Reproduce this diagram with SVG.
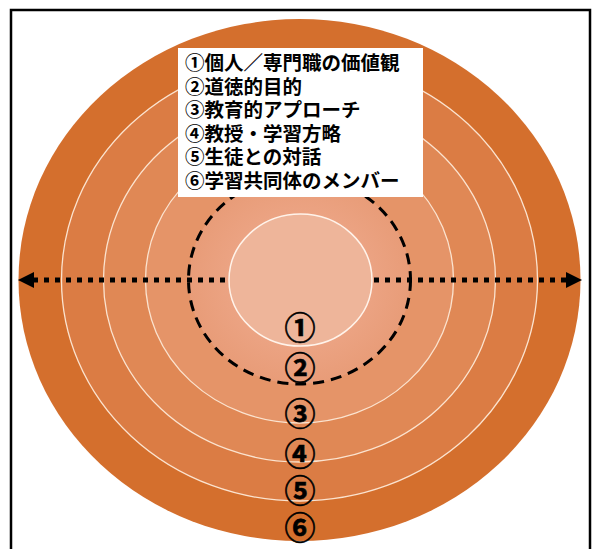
<svg xmlns="http://www.w3.org/2000/svg" width="594" height="549" viewBox="0 0 594 549">
  <defs>
    <style>
      .ring { stroke: #FBE3CF; stroke-width: 1.3; }
      .lbl { font-family: "Noto Sans CJK JP", "Noto Sans", sans-serif; font-weight: bold; font-size: 31px; fill: #000; stroke: #000; stroke-width: 0.6; text-anchor: middle; }
      .legend { font-family: "Noto Sans CJK JP", "Noto Sans", sans-serif; font-weight: bold; font-size: 19.5px; fill: #000; }
    </style>
    <marker id="ah" viewBox="0 0 10 10" refX="10" refY="5" markerWidth="16" markerHeight="16" markerUnits="userSpaceOnUse" orient="auto-start-reverse">
      <path d="M0,0 L10,5 L0,10 z" fill="#000"/>
    </marker>
    <radialGradient id="g2" cx="0.5" cy="0.5" r="0.5">
      <stop offset="0.6" stop-color="#ECA484"/>
      <stop offset="1" stop-color="#E89C78"/>
    </radialGradient>
  </defs>
  <rect x="11" y="10" width="579" height="570" fill="#fff" stroke="#000" stroke-width="2.5"/>

  <g id="rings">
    <ellipse id="ring6" cx="299.5" cy="280" rx="281" ry="261" fill="#D46F2D"/>
    <ellipse id="ring5" class="ring" cx="299.5" cy="280" rx="238" ry="221" fill="#DB7C44"/>
    <ellipse id="ring4" class="ring" cx="299.5" cy="280" rx="196" ry="182" fill="#E08855"/>
    <ellipse id="ring3" class="ring" cx="299.5" cy="280" rx="154" ry="143" fill="#E59468"/>
    <ellipse id="ring2" cx="299.5" cy="280" rx="111" ry="104" fill="url(#g2)"/>
  </g>

  <g id="connectors">
    <line x1="33" y1="280" x2="567" y2="280" stroke="#000" stroke-width="5" stroke-dasharray="5 6"/>
    <line x1="33" y1="280" x2="18" y2="280" stroke="#000" stroke-width="0.1" marker-end="url(#ah)"/>
    <line x1="567" y1="280" x2="582" y2="280" stroke="#000" stroke-width="0.1" marker-end="url(#ah)"/>
  </g>

  <g id="core">
    <ellipse id="ring1" cx="300.5" cy="280" rx="71.5" ry="66" fill="#EEB59A" stroke="#FFF3EA" stroke-width="1.5"/>
  </g>

  <g id="dashed-boundary">
    <ellipse cx="299.5" cy="280" rx="111" ry="104" fill="none" stroke="#000" stroke-width="3" stroke-dasharray="11 7"/>
  </g>

  <g id="labels">
    <text class="lbl" x="300" y="339">①</text>
    <text class="lbl" x="300" y="379">②</text>
    <text class="lbl" x="300" y="425">③</text>
    <text class="lbl" x="300" y="465">④</text>
    <text class="lbl" x="300" y="502">⑤</text>
    <text class="lbl" x="300" y="539">⑥</text>
  </g>

  <g id="legend">
    <rect x="178" y="48" width="245" height="149" fill="#fff"/>
    <text class="legend" x="185" y="70">①個人／専門職の価値観<tspan x="185" dy="23.5">②道徳的目的</tspan><tspan x="185" dy="23.5">③教育的アプローチ</tspan><tspan x="185" dy="23.5">④教授・学習方略</tspan><tspan x="185" dy="23.5">⑤生徒との対話</tspan><tspan x="185" dy="23.5">⑥学習共同体のメンバー</tspan></text>
  </g>
</svg>
